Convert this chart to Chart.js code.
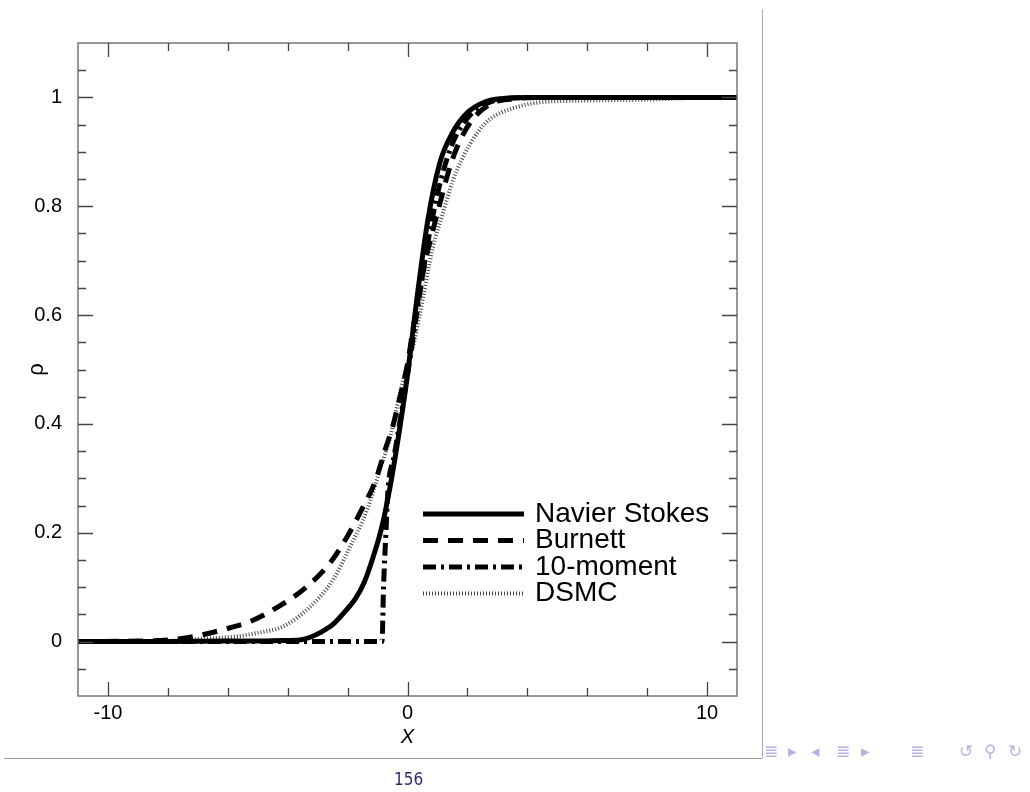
<!DOCTYPE html>
<html>
<head>
<meta charset="utf-8">
<script src="https://cdn.jsdelivr.net/npm/chart.js@4.4.1/dist/chart.umd.min.js"></script>
<style>
  body { margin: 0; background: #fff; width: 1030px; height: 792px; overflow: hidden; position: relative; font-family: "Liberation Sans", Arial, sans-serif; }
  #chart { position: absolute; left: 0; top: 0; }
  .vline { position: absolute; left: 762px; top: 9px; width: 1px; height: 749px; background: #aaa; }
  .hline { position: absolute; left: 4px; top: 758px; width: 758px; height: 1px; background: #999; }
  .pagenum { position: absolute; left: 394px; top: 769px; font-size: 17px; color: #2e2e6e; font-family: "DejaVu Sans Condensed", "DejaVu Sans", sans-serif; }
  .nav { position: absolute; top: 741px; font-size: 17px; color: #b4b4e2; font-family: "DejaVu Sans", sans-serif; }
</style>
</head>
<body>
<canvas id="chart" width="1030" height="792"></canvas>
<div class="vline"></div>
<div class="hline"></div>
<div class="pagenum">156</div>
<div class="nav" style="left:764px">≣</div>
<div class="nav" style="left:788px">▸</div>
<div class="nav" style="left:811px">◂</div>
<div class="nav" style="left:836px">≣</div>
<div class="nav" style="left:861px">▸</div>
<div class="nav" style="left:910px">≣</div>
<div class="nav" style="left:959px">↺</div>
<div class="nav" style="left:984px">⚲</div>
<div class="nav" style="left:1008px">↻</div>
<script>
// Dichteprofil durch die Stosswelle
const seriesNames = ["Navier Stokes", "Burnett", "10-moment", "DSMC"];

const nsX = [-11, -8, -6, -5, -4.2, -3.6, -3.25, -2.9, -2.5, -2.14, -1.75, -1.45, -1.15, -0.86, -0.58, -0.25, 0, 0.32, 0.68, 1.08, 1.5, 2, 2.6, 3.2, 4, 5, 7, 11];
const nsY = [0, 0, 0.001, 0.001, 0.002, 0.003, 0.008, 0.017, 0.031, 0.052, 0.078, 0.108, 0.155, 0.21, 0.285, 0.395, 0.49, 0.633, 0.775, 0.88, 0.935, 0.972, 0.992, 0.998, 1, 1, 1, 1];

const burX = [-11, -9, -8, -7.15, -6.15, -5.25, -4.35, -3.45, -2.58, -1.98, -1.48, -1.08, -0.75, -0.48, -0.25, 0, 0.18, 0.58, 0.85, 1.08, 1.35, 1.65, 2.15, 2.85, 3.5, 4.5, 6, 11];
const burY = [0, 0.001, 0.003, 0.009, 0.022, 0.037, 0.063, 0.097, 0.145, 0.196, 0.248, 0.294, 0.352, 0.398, 0.45, 0.51, 0.573, 0.695, 0.756, 0.805, 0.86, 0.908, 0.958, 0.99, 0.997, 1, 1, 1];

const tenX = [-11, -0.85, -0.8, -0.72, -0.65, -0.45, -0.25, 0, 0.3, 0.7, 1.1, 1.5, 2, 2.6, 3.3, 4.5, 11];
const tenY = [0, 0, 0.1, 0.2, 0.28, 0.34, 0.405, 0.49, 0.6, 0.74, 0.845, 0.915, 0.962, 0.988, 0.998, 1, 1];

const dsmcX = [-11, -8, -6.9, -5.8, -5, -4.15, -3.25, -2.48, -1.92, -1.35, -0.92, -0.58, -0.25, 0, 0.18, 0.42, 0.85, 1.18, 1.52, 1.85, 2.32, 2.75, 3.52, 4.42, 5.75, 8, 10.2, 11];
const dsmcY = [0, 0.001, 0.005, 0.009, 0.016, 0.028, 0.064, 0.114, 0.174, 0.242, 0.316, 0.376, 0.457, 0.51, 0.541, 0.604, 0.725, 0.787, 0.848, 0.89, 0.934, 0.96, 0.98, 0.991, 0.994, 0.996, 1, 1];

const xTicks = [-10, 0, 10];
const xTickLabels = ["-10", "0", "10"];
const yTicks = [0, 0.2, 0.4, 0.6, 0.8, 1];
const yTickLabels = ["0", "0.2", "0.4", "0.6", "0.8", "1"];

function pts(xs, ys) {
  return xs.map((x, i) => ({ x: x, y: ys[i] }));
}

const styles = [
  { borderWidth: 5, borderDash: [], borderColor: "#000" },
  { borderWidth: 5, borderDash: [15, 10], borderColor: "#000" },
  { borderWidth: 5, borderDash: [13, 5, 3, 5], borderColor: "#000" },
  { borderWidth: 4, borderDash: [1, 2], borderColor: "#444" }
];

const allData = [pts(nsX, nsY), pts(burX, burY), pts(tenX, tenY), pts(dsmcX, dsmcY)];

// Rahmen + nach innen zeigende Ticks auf allen vier Seiten
const boxTicks = {
  id: "boxTicks",
  afterDatasetsDraw(chart) {
    const { ctx, chartArea: a, scales: { x, y } } = chart;
    ctx.save();
    ctx.strokeStyle = "#777";
    ctx.lineWidth = 1.5;
    ctx.strokeRect(a.left, a.top, a.right - a.left, a.bottom - a.top);
    ctx.strokeStyle = "#444";
    ctx.lineWidth = 1.3;
    ctx.beginPath();
    for (let v = -10; v <= 10; v += 2) {
      const px = Math.round(x.getPixelForValue(v)) + 0.5;
      const len = xTicks.includes(v) ? 14 : 8;
      ctx.moveTo(px, a.bottom); ctx.lineTo(px, a.bottom - len);
      ctx.moveTo(px, a.top); ctx.lineTo(px, a.top + len);
    }
    for (let k = -1; k <= 21; k++) {
      const v = k * 0.05;
      const py = Math.round(y.getPixelForValue(v)) + 0.5;
      const len = k % 4 === 0 ? 15 : 8;
      ctx.moveTo(a.left, py); ctx.lineTo(a.left + len, py);
      ctx.moveTo(a.right, py); ctx.lineTo(a.right - len, py);
    }
    ctx.stroke();
    ctx.restore();
  }
};

// Legende unten rechts im Plot
const innerLegend = {
  id: "innerLegend",
  afterDatasetsDraw(chart) {
    const { ctx, chartArea: a } = chart;
    const x0 = a.left + 345, x1 = a.left + 446, tx = a.left + 457;
    ctx.save();
    ctx.font = "28px 'Liberation Sans', Arial, sans-serif";
    ctx.fillStyle = "#000";
    ctx.textBaseline = "middle";
    chart.data.datasets.forEach((ds, i) => {
      const yy = a.top + 471 + i * 26.5;
      ctx.strokeStyle = ds.borderColor;
      ctx.lineWidth = ds.borderWidth;
      ctx.setLineDash(ds.borderDash);
      ctx.beginPath();
      ctx.moveTo(x0, yy); ctx.lineTo(x1, yy);
      ctx.stroke();
      ctx.fillText(ds.label, tx, yy);
    });
    ctx.restore();
  }
};

new Chart(document.getElementById("chart").getContext("2d"), {
  type: "scatter",
  data: {
    datasets: seriesNames.map((name, i) => ({
      label: name,
      data: allData[i],
      showLine: true,
      pointRadius: 0,
      fill: false,
      cubicInterpolationMode: "monotone",
      borderColor: styles[i].borderColor,
      borderWidth: styles[i].borderWidth,
      borderDash: styles[i].borderDash
    }))
  },
  options: {
    responsive: false,
    animation: false,
    layout: { padding: { left: 20, top: 43, right: 293, bottom: 40 } },
    plugins: { legend: { display: false }, tooltip: { enabled: false } },
    scales: {
      x: {
        type: "linear",
        min: -11,
        max: 11,
        afterBuildTicks: s => { s.ticks = xTicks.map(v => ({ value: v })); },
        afterFit: s => { s.height = 56; },
        grid: { display: false },
        border: { display: false },
        ticks: {
          padding: -3,
          color: "#000",
          font: { family: "'Liberation Sans', Arial", size: 20 },
          callback: (v) => xTickLabels[xTicks.indexOf(v)]
        },
        title: {
          display: true,
          text: "X",
          color: "#000",
          padding: { top: 0, bottom: 3 },
          font: { family: "'Liberation Sans', Arial", size: 20, style: "italic" }
        }
      },
      y: {
        min: -0.1,
        max: 1.1,
        afterBuildTicks: s => { s.ticks = yTicks.map(v => ({ value: v })); },
        afterFit: s => { s.width = 58; },
        grid: { display: false },
        border: { display: false },
        ticks: {
          padding: 8,
          color: "#000",
          font: { family: "'Liberation Sans', Arial", size: 20 },
          callback: (v) => yTickLabels[yTicks.indexOf(v)]
        },
        title: {
          display: true,
          text: "ρ",
          color: "#000",
          padding: { top: 4, bottom: 0 },
          font: { family: "'Liberation Sans', Arial", size: 22 }
        }
      }
    }
  },
  plugins: [boxTicks, innerLegend]
});
</script>
</body>
</html>
